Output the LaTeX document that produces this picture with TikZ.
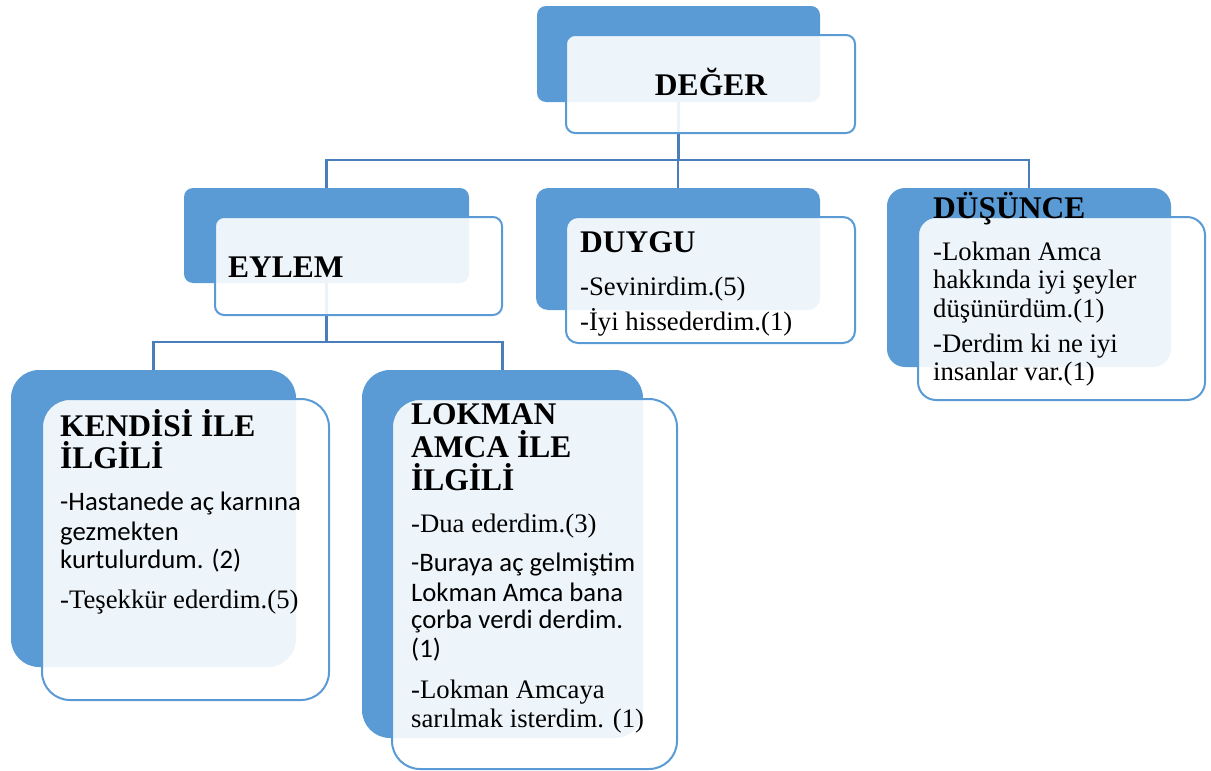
\documentclass[tikz,border=0pt]{standalone}
\usepackage{fontspec}
\setmainfont{Liberation Serif}
\newfontfamily\timesfont{Liberation Serif}
\newfontfamily\calfont{Carlito}
\definecolor{accent}{HTML}{5B9BD5}
\definecolor{linkc}{HTML}{4A7EBB}
\begin{document}
\begin{tikzpicture}[x=1pt,y=-1pt,
  back/.style={fill=accent, draw=none, rounded corners=#1, inner sep=0, outer sep=0},
  front/.style={fill=white, fill opacity=0.9, draw=accent, line width=2pt, rounded corners=#1, inner sep=0, outer sep=0},
  link/.style={draw=linkc, line width=2.4pt},
  head/.style={anchor=base west, inner sep=0, font=\timesfont\bfseries\fontsize{31.5}{33}\selectfont},
  txt/.style={anchor=base west, inner sep=0, font=\timesfont\fontsize{26.7}{29}\selectfont},
  ctxt/.style={anchor=base west, inner sep=0, font=\calfont\fontsize{26.7}{29}\selectfont}]
\useasboundingbox (0,0) rectangle (1211,771);

% coloured back plates
\node[back=9pt,  minimum width=283, minimum height=96]  (degerB)   at (678.5,54)   {};
\node[back=9pt,  minimum width=285, minimum height=95]  (eylemB)   at (326.5,235.5) {};
\node[back=12pt, minimum width=284, minimum height=122] (duyguB)   at (678,249)    {};
\node[back=18pt, minimum width=284, minimum height=179] (dusunceB) at (1029,277.5) {};
\node[back=28pt, minimum width=285, minimum height=297] (kendisiB) at (153.5,518.5) {};
\node[back=28pt, minimum width=281, minimum height=368] (lokmanB)  at (502.5,554)  {};

% tree connectors
\coordinate (j1) at (678.5,160);
\coordinate (j2) at (326.5,342);
\draw[link] (degerB.south) -- (j1);
\draw[link] (eylemB.north) |- (j1);
\draw[link] (dusunceB.north) |- (j1);
\draw[link] (duyguB.north) -- (duyguB.north |- j1);
\draw[link] (eylemB.south) -- (j2);
\draw[link] (kendisiB.north) |- (j2);
\draw[link] (lokmanB.north) |- (j2);

% translucent text panels
\node[front=9pt,  minimum width=289, minimum height=98]  (degerF)   at (710.5,84)   {};
\node[front=9pt,  minimum width=287, minimum height=98]  (eylemF)   at (358.5,266)  {};
\node[front=12pt, minimum width=289, minimum height=126] (duyguF)   at (710.5,280)  {};
\node[front=18pt, minimum width=287, minimum height=183] (dusunceF) at (1061.5,308.5) {};
\node[front=28pt, minimum width=287, minimum height=301] (kendisiF) at (185.5,549.5) {};
\node[front=28pt, minimum width=285, minimum height=370] (lokmanF)  at (534.5,584)  {};

% DEĞER
\node[head, anchor=base] (degerT) at (711,95) {DEĞER};

% EYLEM
\node[head] (eylemT) at (228,277) {EYLEM};

% DUYGU
\node[head] (duyguT) at (580,252) {DUYGU};
\node[txt] (duygu1) at (580,295) {-Sevinirdim.(5)};
\node[txt] (duygu2) at (580,330) {-İyi hissederdim.(1)};

% DÜŞÜNCE
\node[head] (dusunceT) at (933,218) {DÜŞÜNCE};
\node[txt] (dusunce1) at (933,260) {-Lokman Amca};
\node[txt] (dusunce2) at (933,288) {hakkında iyi şeyler};
\node[txt] (dusunce3) at (933,317) {düşünürdüm.(1)};
\node[txt] (dusunce4) at (933,352) {-Derdim ki ne iyi};
\node[txt] (dusunce5) at (933,380) {insanlar var.(1)};

% KENDİSİ İLE İLGİLİ
\node[head] (kendisiT1) at (60,436) {KENDİSİ İLE};
\node[head] (kendisiT2) at (60,468) {İLGİLİ};
\node[ctxt] (kendisi1) at (60,510) {-Hastanede aç karnına};
\node[ctxt] (kendisi2) at (60,540) {gezmekten};
\node[ctxt] (kendisi3) at (60,568) {kurtulurdum. (2)};
\node[txt]  (kendisi4) at (60,608) {-Teşekkür ederdim.(5)};

% LOKMAN AMCA İLE İLGİLİ
\node[head] (lokmanT1) at (411,424) {LOKMAN};
\node[head] (lokmanT2) at (411,457) {AMCA İLE};
\node[head] (lokmanT3) at (411,490) {İLGİLİ};
\node[txt]  (lokman1) at (411,532) {-Dua ederdim.(3)};
\node[ctxt] (lokman2) at (411,571) {-Buraya aç gelmiştim};
\node[ctxt] (lokman3) at (411,601) {Lokman Amca bana};
\node[ctxt] (lokman4) at (411,628) {çorba verdi derdim.};
\node[ctxt] (lokman5) at (411,657) {(1)};
\node[txt]  (lokman6) at (411,698) {-Lokman Amcaya};
\node[txt]  (lokman7) at (411,727) {sarılmak isterdim. (1)};
\end{tikzpicture}
\end{document}
